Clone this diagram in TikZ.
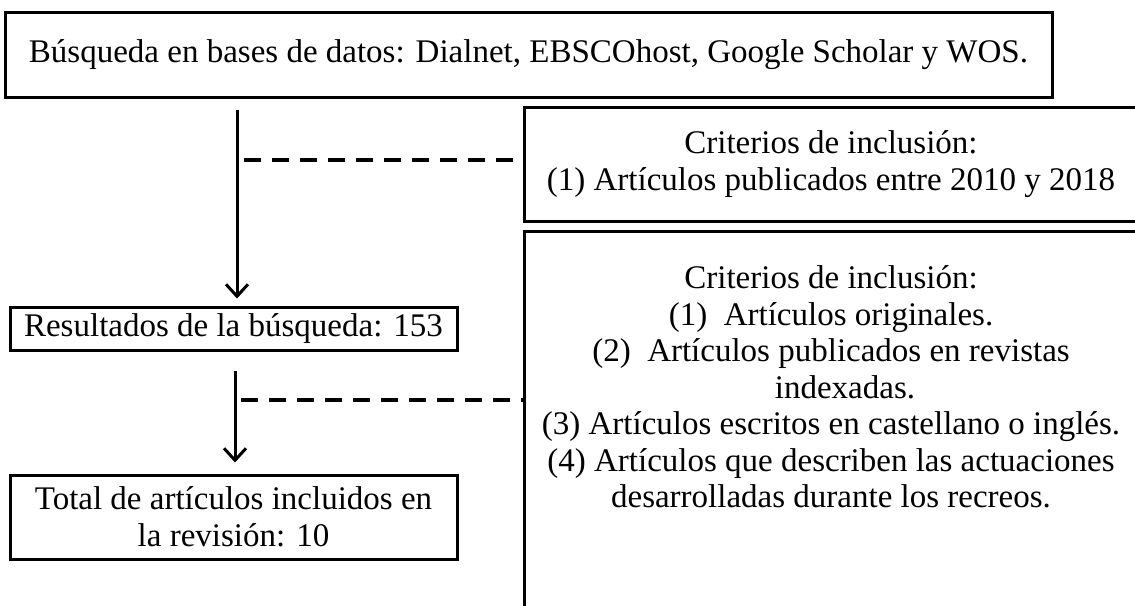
\documentclass[tikz,border=0pt]{standalone}
\usepackage{fontspec}
\setmainfont{Liberation Serif}
\usetikzlibrary{arrows.meta}
\begin{document}
\begin{tikzpicture}[x=1pt,y=-1pt,
  box/.style={draw,line width=3pt,inner sep=0pt,align=center,font=\fontsize{33}{36.5}\selectfont},
  txt/.style={font=\fontsize{33}{36.5}\selectfont,align=center,inner sep=0pt},
  arr/.style={line width=3pt,-{Straight Barb[length=12pt,width=22pt,line width=3pt]}},
  dsh/.style={line width=4pt,dash pattern=on 17pt off 11pt}]
\useasboundingbox (0,0) rectangle (1135,605);
\clip (0,0) rectangle (1135,605);
\node[box,minimum width=1047pt,minimum height=85pt] (top) at (528.5,54.5)
  {Búsqueda en bases de datos: Dialnet, EBSCOhost, Google Scholar y WOS.};
\node[box,minimum width=447pt,minimum height=43pt] (res) at (233.5,328.5)
  {Resultados de la búsqueda: 153};
\node[box,minimum width=447pt,minimum height=84pt] (total) at (233.5,517)
  {Total de artículos incluidos en\\la revisión: 10};
\node[box,minimum width=614pt,minimum height=114pt] (crit1) at (831,164)
  {Criterios de inclusión:\\(1) Artículos publicados entre 2010 y 2018};
\node[box,minimum width=614pt,minimum height=419pt] (crit2) at (831,440.5) {};
\node[txt] (crit2text) at (831,387)
  {Criterios de inclusión:\\(1)~~Artículos originales.\\(2)~~Artículos publicados en revistas\\\hspace*{28pt}indexadas.\\(3) Artículos escritos en castellano o inglés.\\(4) Artículos que describen las actuaciones\\desarrolladas durante los recreos.};
\coordinate (c1) at (237,0);
\coordinate (c2) at (235,0);
\draw[arr,shorten <=11pt,shorten >=7pt] (c1 |- top.south) -- (c1 |- res.north);
\draw[arr,shorten <=19pt,shorten >=11pt] (c2 |- res.south) -- (c2 |- total.north);
\coordinate (d1) at (244,160);
\coordinate (d2) at (241,400);
\draw[dsh] (d1) -- (d1 -| crit1.west);
\draw[dsh] (d2) -- (d2 -| crit2.west);
\end{tikzpicture}
\end{document}
